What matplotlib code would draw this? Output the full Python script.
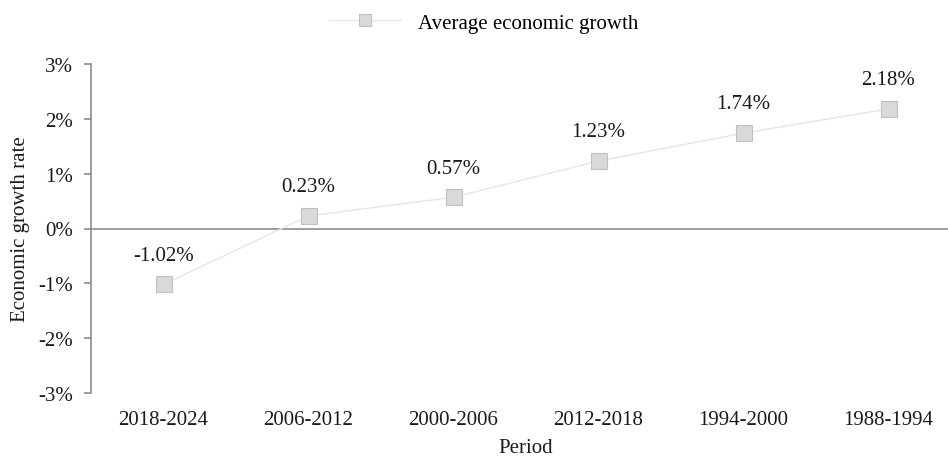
import matplotlib.pyplot as plt
from matplotlib.ticker import FuncFormatter

periods = ["2018-2024", "2006-2012", "2000-2006", "2012-2018", "1994-2000", "1988-1994"]
growth = [-1.02, 0.23, 0.57, 1.23, 1.74, 2.18]
labels = ["-1.02%", "0.23%", "0.57%", "1.23%", "1.74%", "2.18%"]

plt.rcParams['font.family'] = ['Liberation Serif', 'DejaVu Serif']

fig = plt.figure(figsize=(9.48, 4.6), dpi=100)
ax = fig.add_axes([91 / 948, (460 - 394) / 460, 870 / 948, 329 / 460])

x = list(range(len(periods)))
ax.plot(x, growth, color='#e6e6e6', linewidth=1, marker='s', markersize=11,
        markerfacecolor='#d9d9d9', markeredgecolor='#c0c0c0', markeredgewidth=0.8,
        label="Average economic growth", zorder=3)

for xi, yi, t in zip(x, growth, labels):
    ax.annotate(t, (xi, yi), xytext=(0, 21), textcoords='offset points',
                ha='center', va='center', fontsize=15, color='#1a1a1a')

ax.axhline(0, color='#8c8c8c', linewidth=1.2, zorder=1)

ax.set_xlim(-0.5, 5.5)
ax.set_ylim(-3, 3)
ax.set_yticks([-3, -2, -1, 0, 1, 2, 3])
ax.yaxis.set_major_formatter(FuncFormatter(lambda v, p: f"{v:.0f}%"))
ax.set_xticks(x)
ax.set_xticklabels(periods)

for s in ['top', 'right', 'bottom']:
    ax.spines[s].set_visible(False)
ax.spines['left'].set_color('#8c8c8c')
ax.spines['left'].set_linewidth(1.2)
ax.tick_params(axis='y', length=5, color='#8c8c8c', width=1.2, labelsize=15, pad=8, labelcolor='#1a1a1a')
ax.tick_params(axis='x', length=0, labelsize=15, pad=12, labelcolor='#1a1a1a')

ax.set_xlabel("Period", fontsize=15, labelpad=7, color='#1a1a1a')
ax.set_ylabel("Economic growth rate", fontsize=15, labelpad=6, color='#1a1a1a')

fig.legend(loc='upper center', bbox_to_anchor=(0.51, 1.01), frameon=False,
           fontsize=15, handlelength=3.5, markerscale=0.75)

fig.savefig("out.png", dpi=100)
